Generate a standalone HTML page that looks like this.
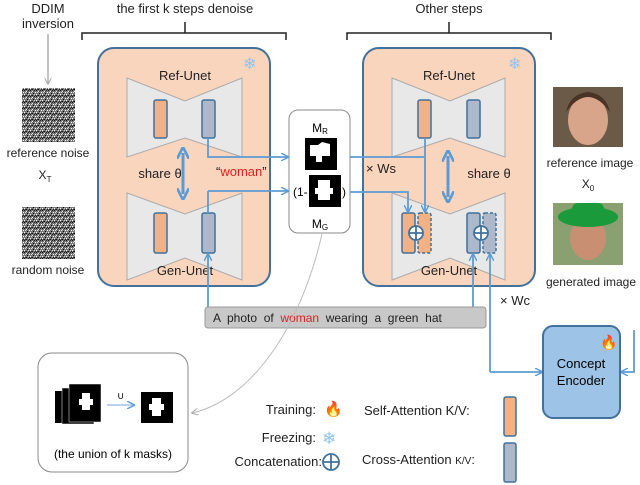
<!DOCTYPE html>
<html><head><meta charset="utf-8"><style>
body{margin:0;background:#fff}
svg{display:block;font-family:"Liberation Sans",sans-serif}
</style></head><body>
<svg width="640" height="485" viewBox="0 0 640 485">
<defs>
<marker id="ab" viewBox="0 0 10 10" refX="9" refY="5" markerUnits="userSpaceOnUse" markerWidth="8" markerHeight="8" orient="auto-start-reverse"><path d="M0,0 L10,5 L0,10" fill="none" stroke="#5b9bd5" stroke-width="1.8"/></marker>
<marker id="ag" viewBox="0 0 10 10" refX="9" refY="5" markerUnits="userSpaceOnUse" markerWidth="7" markerHeight="7" orient="auto"><path d="M0,0 L10,5 L0,10" fill="none" stroke="#aaa" stroke-width="1.5"/></marker>
<marker id="bb" viewBox="0 0 10 10" refX="5" refY="5" markerUnits="userSpaceOnUse" markerWidth="12" markerHeight="12" orient="auto-start-reverse"><path d="M0,0 L10,5 L0,10" fill="none" stroke="#5b9bd5" stroke-width="2.2"/></marker>
<pattern id="nz" width="6" height="6" patternUnits="userSpaceOnUse">
<rect width="6" height="6" fill="#777"/>
<rect x="0" y="0" width="1" height="1" fill="#111"/><rect x="2" y="1" width="1" height="1" fill="#eee"/><rect x="4" y="0" width="1" height="1" fill="#222"/>
<rect x="1" y="2" width="1" height="1" fill="#ddd"/><rect x="3" y="3" width="1" height="1" fill="#000"/><rect x="5" y="2" width="1" height="1" fill="#fff"/>
<rect x="0" y="4" width="1" height="1" fill="#fff"/><rect x="2" y="5" width="1" height="1" fill="#111"/><rect x="4" y="4" width="1" height="1" fill="#ccc"/>
<rect x="1" y="5" width="1" height="1" fill="#333"/><rect x="5" y="5" width="1" height="1" fill="#222"/><rect x="3" y="1" width="1" height="1" fill="#444"/>
</pattern>
</defs>

<g font-size="13" fill="#222" text-anchor="middle">
<text x="48" y="13">DDIM</text><text x="48" y="28">inversion</text>
<text x="185" y="13">the first k steps denoise</text>
<text x="449" y="13">Other steps</text>
</g>
<path d="M82,40 V33 H286 V40 M185,33 V22" fill="none" stroke="#222" stroke-width="1.5"/>
<path d="M347,40 V33 H551 V40 M449,33 V22" fill="none" stroke="#222" stroke-width="1.5"/>
<line x1="48" y1="34" x2="48" y2="84" stroke="#999" stroke-width="1.2" marker-end="url(#ag)"/>

<rect x="22" y="88" width="53" height="54" fill="url(#nz)"/>
<rect x="22" y="207" width="53" height="52" fill="url(#nz)"/>
<g font-size="12" fill="#222" text-anchor="middle">
<text x="48" y="157">reference noise</text>
<text x="45" y="179">X<tspan font-size="8" dy="3">T</tspan></text>
<text x="48" y="274">random noise</text>
</g>

<rect x="98" y="48" width="172" height="238" rx="16" fill="#f9d5bd" stroke="#41719c" stroke-width="2"/>
<rect x="363" y="48" width="172" height="238" rx="16" fill="#f9d5bd" stroke="#41719c" stroke-width="2"/>
<text x="243" y="69" font-size="16" fill="#8fc4f0">❄</text>
<text x="508" y="69" font-size="16" fill="#8fc4f0">❄</text>

<g fill="#e8e8e8" stroke="#aaa" stroke-width="1">
<polygon points="127,78 185,101 242,78 242,157 185,138 127,157"/>
<polygon points="127,193 185,214 242,193 242,280 185,258 127,280"/>
<polygon points="392,78 450,101 505,78 505,157 450,138 392,157"/>
<polygon points="392,193 450,214 505,193 505,280 450,258 392,280"/>
</g>
<g font-size="13" fill="#222" text-anchor="middle">
<text x="185" y="80">Ref-Unet</text><text x="185" y="275">Gen-Unet</text>
<text x="449" y="80">Ref-Unet</text><text x="449" y="275">Gen-Unet</text>
<text x="160" y="178">share θ</text><text x="489" y="178">share θ</text>
</g>
<g stroke-width="1.5" stroke="#41719c">
<rect x="154" y="100" width="13" height="38" rx="2" fill="#f4b183"/>
<rect x="202" y="100" width="13" height="38" rx="2" fill="#adb9ca"/>
<rect x="154" y="213" width="13" height="40" rx="2" fill="#f4b183"/>
<rect x="202" y="213" width="13" height="40" rx="2" fill="#adb9ca"/>
<rect x="418" y="100" width="13" height="38" rx="2" fill="#f4b183"/>
<rect x="467" y="100" width="13" height="38" rx="2" fill="#adb9ca"/>
<rect x="402" y="213" width="13" height="40" rx="2" fill="#f4b183"/>
<rect x="418" y="213" width="13" height="40" rx="2" fill="#f4b183" stroke-dasharray="3,2"/>
<rect x="467" y="213" width="13" height="40" rx="2" fill="#adb9ca"/>
<rect x="483" y="213" width="13" height="40" rx="2" fill="#adb9ca" stroke-dasharray="3,2"/>
</g>
<g fill="#fff" stroke="#41719c" stroke-width="1.8">
<circle cx="416" cy="233" r="7"/><path d="M409,233 H423 M416,226 V240"/>
<circle cx="481" cy="233" r="7"/><path d="M474,233 H488 M481,226 V240"/>
</g>
<line x1="183" y1="153" x2="183" y2="194" stroke="#5b9bd5" stroke-width="3" marker-start="url(#bb)" marker-end="url(#bb)"/>
<line x1="448" y1="156" x2="448" y2="197" stroke="#5b9bd5" stroke-width="3" marker-start="url(#bb)" marker-end="url(#bb)"/>

<rect x="289" y="110" width="61" height="123" rx="9" fill="#fff" stroke="#888" stroke-width="1"/>
<text x="320" y="132" font-size="12" text-anchor="middle">M<tspan font-size="8" dy="2">R</tspan></text>
<rect x="305" y="138" width="32" height="32" fill="#000"/>
<path d="M310,145 h8 l4,-3 l8,2 v12 h-8 v6 h-6 v-6 h-6z" fill="#fff"/>
<rect x="309" y="175" width="32" height="32" fill="#000"/>
<path d="M318,180 h12 v8 h3 v6 h-3 v6 h-12 v-6 h-3 v-6 h3z" fill="#fff"/>
<text x="293" y="196" font-size="12">(1-</text><text x="342" y="196" font-size="12">)</text>
<text x="320" y="228" font-size="12" text-anchor="middle">M<tspan font-size="8" dy="2">G</tspan></text>
<text x="216" y="176" font-size="13" fill="#222">“<tspan fill="#e02020">woman</tspan>”</text>

<g fill="none" stroke="#5b9bd5" stroke-width="1.8">
<path d="M208,138 V157 H288" marker-end="url(#ab)"/>
<path d="M208,191 H288" marker-end="url(#ab)"/>
<path d="M208,191 V213"/>
<path d="M350,157 H425"/>
<path d="M425,138 V212" marker-end="url(#ab)"/>
<path d="M350,192 H408 V212" marker-end="url(#ab)"/>
<path d="M473,309 V254" marker-end="url(#ab)"/>
<path d="M490,372 V254" marker-end="url(#ab)"/>
<path d="M490,372 H542" marker-end="url(#ab)"/>
<path d="M634,330 V372 H621" marker-end="url(#ab)"/>
<path d="M208,310 V254" marker-end="url(#ab)"/>
</g>
<text x="366" y="173" font-size="13" fill="#222">× Ws</text>
<text x="500" y="305" font-size="13" fill="#222">× Wc</text>

<rect x="205" y="307" width="281" height="21" rx="3" fill="#c8c8c8" stroke="#999"/>
<text x="213" y="322" font-size="12" fill="#222" xml:space="preserve">A  photo  of  <tspan fill="#e02020">woman</tspan>  wearing  a  green  hat</text>

<path d="M322,234 C300,330 250,400 192,413" fill="none" stroke="#bbb" stroke-width="1" marker-end="url(#ag)"/>

<rect x="543" y="326" width="77" height="92" rx="10" fill="#9dc3e6" stroke="#41719c" stroke-width="2"/>
<text x="600" y="347" font-size="14">🔥</text>
<text x="581" y="368" font-size="13" text-anchor="middle">Concept</text>
<text x="581" y="385" font-size="13" text-anchor="middle">Encoder</text>

<rect x="553" y="87" width="70" height="60" fill="#6b5a48"/>
<ellipse cx="588" cy="120" rx="20" ry="25" fill="#d9a58a"/>
<path d="M566,112 q22,-30 44,0 q-4,-18 -22,-20 q-18,2 -22,20z" fill="#4a3324"/>
<rect x="553" y="203" width="70" height="62" fill="#8aa070"/>
<ellipse cx="588" cy="238" rx="18" ry="22" fill="#c98f73"/>
<ellipse cx="588" cy="217" rx="30" ry="10" fill="#1a9a3a"/>
<rect x="572" y="203" width="32" height="14" rx="6" fill="#1a9a3a"/>
<g font-size="12" fill="#222" text-anchor="middle">
<text x="590" y="167">reference image</text>
<text x="588" y="188">X<tspan font-size="8" dy="3">0</tspan></text>
<text x="591" y="286">generated image</text>
</g>

<rect x="38" y="353" width="150" height="119" rx="14" fill="#fff" stroke="#888" stroke-width="1"/>
<rect x="55" y="391" width="32" height="32" fill="#000"/>
<rect x="62" y="388" width="32" height="36" fill="#000" stroke="#fff" stroke-width="0.5"/>
<rect x="69" y="384" width="32" height="38" fill="#000" stroke="#fff" stroke-width="0.5"/>
<path d="M82,393 h8 v6 h3 v6 h-3 v5 h-8 v-5 h-3 v-6 h3z" fill="#fff"/>
<text x="117" y="399" font-size="10">∪</text>
<line x1="107" y1="405" x2="134" y2="405" stroke="#9dc3e6" stroke-width="1.5" marker-end="url(#ab)"/>
<rect x="141" y="392" width="32" height="31" fill="#000"/>
<path d="M152,398 h9 v6 h3 v6 h-3 v6 h-9 v-6 h-3 v-6 h3z" fill="#fff"/>
<text x="113" y="458" font-size="12" text-anchor="middle">(the union of k masks)</text>

<g font-size="13" fill="#222">
<text x="316" y="414" text-anchor="end">Training:</text>
<text x="324" y="414" font-size="15">🔥</text>
<text x="316" y="442" text-anchor="end">Freezing:</text>
<text x="322" y="444" font-size="17" fill="#8fc4f0">❄</text>
<text x="322" y="466" text-anchor="end">Concatenation:</text>
<text x="364" y="415">Self-Attention K/V:</text>
<text x="362" y="464">Cross-Attention <tspan font-size="10">K/V</tspan>:</text>
</g>
<g fill="#fff" stroke="#41719c" stroke-width="1.8">
<circle cx="331" cy="462" r="8"/><path d="M323,462 H339 M331,454 V470"/>
</g>
<rect x="504" y="397" width="12" height="39" rx="2" fill="#f4b183" stroke="#41719c" stroke-width="1.5"/>
<rect x="504" y="443" width="12" height="39" rx="2" fill="#adb9ca" stroke="#41719c" stroke-width="1.5"/>
</svg>
</body></html>
